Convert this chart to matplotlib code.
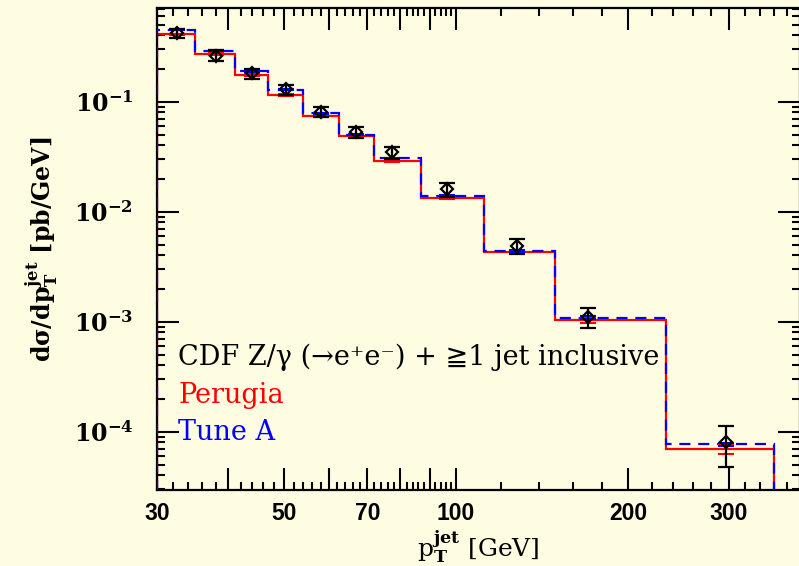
import matplotlib
matplotlib.use('Agg')
import matplotlib.pyplot as plt
from matplotlib.ticker import FixedLocator, FixedFormatter, LogLocator, NullFormatter
import numpy as np

plt.rcParams['mathtext.fontset'] = 'dejavuserif'
plt.rcParams['mathtext.default'] = 'bf'

# pT bin edges [GeV]
bin_edges = [30, 35, 41, 47, 54, 62.5, 72, 87, 112, 149, 233, 360]

# MC predictions, dsigma/dpT [pb/GeV]
perugia = [0.410, 0.270, 0.174, 0.115, 0.0741, 0.0488, 0.0289, 0.0134, 0.00428, 0.00104, 6.97e-5]
perugia_err = [0.006, 0.004, 0.003, 0.002, 0.0012, 0.0008, 0.0005, 0.0003, 0.0001, 6.0e-5, 6.5e-6]
tune_a = [0.449, 0.291, 0.189, 0.128, 0.0784, 0.0501, 0.0306, 0.0139, 0.00440, 0.00109, 7.67e-5]
tune_a_err = [0.005, 0.003, 0.002, 0.0015, 0.0009, 0.0006, 0.0004, 0.0002, 0.00008, 3.0e-5, 3.0e-6]

# CDF data points
data_pt = [32.5, 38.0, 43.9, 50.4, 58.0, 67.0, 77.3, 96.5, 128, 170, 297]
data_xs = [0.419, 0.262, 0.181, 0.129, 0.0811, 0.053, 0.0347, 0.0161, 0.00491, 0.00111, 8.01e-5]
data_hi = [0.458, 0.295, 0.197, 0.141, 0.0889, 0.0589, 0.039, 0.0181, 0.00565, 0.00132, 1.13e-4]
data_lo = [0.377, 0.236, 0.162, 0.115, 0.0722, 0.0468, 0.030, 0.0137, 0.00415, 0.00087, 4.75e-5]

# tick positions / labels
x_major = [30, 40, 50, 60, 70, 80, 90, 100, 200, 300]
x_labels = ['30', '', '50', '', '70', '', '', '100', '200', '300']
y_major = [1e-4, 1e-3, 1e-2, 1e-1]
y_labels = [r'$10^{-4}$', r'$10^{-3}$', r'$10^{-2}$', r'$10^{-1}$']

bg = '#fffde1'
fig = plt.figure(figsize=(7.99, 5.66), dpi=100, facecolor=bg)
ax = fig.add_axes([157 / 799, 76 / 566, 643 / 799, 482 / 566])
ax.set_facecolor(bg)
ax.set_xscale('log')
ax.set_yscale('log')

ax.stairs(perugia, bin_edges, baseline=1e-7, color='red', lw=1.6, zorder=2)
ax.stairs(tune_a, bin_edges, baseline=1e-7, color='blue', lw=1.6,
          linestyle=(0, (5, 3.5)), zorder=3)

# MC statistical errors at the data positions
ax.errorbar(data_pt, perugia, yerr=perugia_err, fmt='none', ecolor='red',
            elinewidth=1.5, capsize=5.5, capthick=1.5, zorder=4)
ax.errorbar(data_pt, tune_a, yerr=tune_a_err, fmt='none', ecolor='blue',
            elinewidth=1.5, capsize=5.5, capthick=1.5, zorder=4)

xs = np.array(data_xs)
yerr = [xs - np.array(data_lo), np.array(data_hi) - xs]
ax.errorbar(data_pt, data_xs, yerr=yerr, fmt='D', color='black', ms=6.5,
            mfc='none', mew=1.6, elinewidth=1.6, capsize=5.5, capthick=1.6, zorder=5)

ax.set_xlim(30, 400)
ax.set_ylim(2.95e-5, 0.71)

x_minor = [v for v in range(32, 100, 2) if v % 10] + [v for v in range(120, 400, 20) if v % 100]
ax.xaxis.set_major_locator(FixedLocator(x_major))
ax.xaxis.set_major_formatter(FixedFormatter(x_labels))
ax.xaxis.set_minor_locator(FixedLocator(x_minor))
ax.xaxis.set_minor_formatter(NullFormatter())
ax.yaxis.set_major_locator(FixedLocator(y_major))
ax.yaxis.set_major_formatter(FixedFormatter(y_labels))
ax.yaxis.set_minor_locator(LogLocator(base=10, subs=np.arange(2, 10)))
ax.yaxis.set_minor_formatter(NullFormatter())

ax.tick_params(which='both', direction='in', top=True, right=True, width=1.5, color='black')
ax.tick_params(which='major', length=15.5)
ax.tick_params(which='minor', length=5.8)
ax.tick_params(axis='x', which='major', pad=9)
ax.tick_params(axis='y', which='major', pad=17, labelsize=17)
for lab in ax.get_xticklabels():
    lab.set_family('Liberation Sans')
    lab.set_weight('bold')
    lab.set_fontsize(16.5)
for sp in ax.spines.values():
    sp.set_linewidth(1.6)

ax.set_xlabel(r'p$_{T}^{jet}$ [GeV]', fontsize=18, family='DejaVu Serif', va='center')
ax.xaxis.set_label_coords(0.5, -0.118)
ax.set_ylabel(r'd$\sigma$/dp$_{T}^{jet}$ [pb/GeV]', fontsize=17,
              family='DejaVu Serif', weight='bold', labelpad=10)

fam = ['DejaVu Serif', 'DejaVu Sans']
ax.text(0.033, 0.276, 'CDF Z/γ (→e⁺e⁻) + ≧1 jet inclusive', transform=ax.transAxes,
        fontsize=19.5, family=fam, va='center', color='black')
ax.text(0.033, 0.197, 'Perugia', transform=ax.transAxes,
        fontsize=19.5, family=fam, va='center', color='red')
ax.text(0.033, 0.120, 'Tune A', transform=ax.transAxes,
        fontsize=19.5, family=fam, va='center', color='blue')

fig.savefig('out.png', dpi=100, facecolor=bg)
